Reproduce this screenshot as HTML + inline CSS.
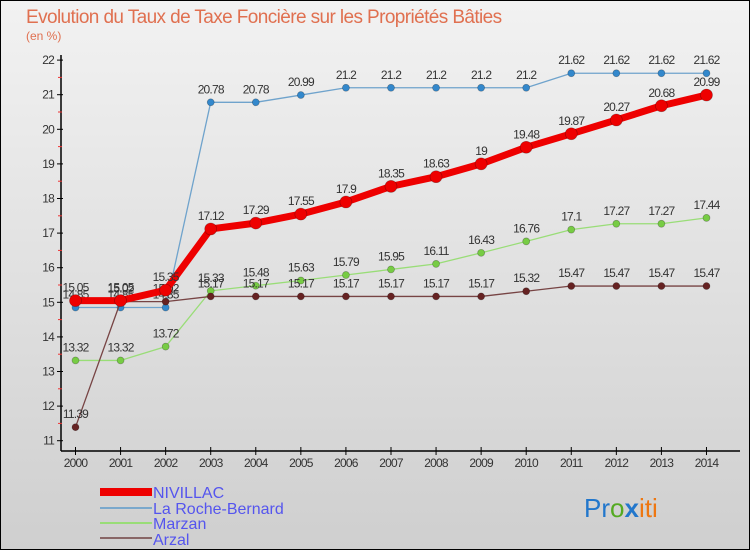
<!DOCTYPE html>
<html><head><meta charset="utf-8"><style>
body{margin:0;width:750px;height:550px;overflow:hidden;font-family:"Liberation Sans",sans-serif}
svg text{font-family:"Liberation Sans",sans-serif}
</style></head><body>
<svg id="chart" width="750" height="550" xmlns="http://www.w3.org/2000/svg">
<defs><linearGradient id="bg" x1="0" y1="0" x2="0" y2="1"><stop offset="0" stop-color="#f2f2f2"/><stop offset="1" stop-color="#cfcfcf"/></linearGradient></defs>
<rect x="0.5" y="0.5" width="749" height="549" fill="url(#bg)" stroke="#000"/>
<text x="26" y="23" font-size="19" fill="#e07050" letter-spacing="-0.6">Evolution du Taux de Taxe Foncière sur les Propriétés Bâties</text>
<text x="26" y="40" font-size="12" fill="#e07050">(en %)</text>
<g id="axes"></g><g id="series"></g>
<g font-size="16" fill="#5555ee">
<rect x="100" y="488" width="52" height="8" fill="#ee0000"/>
<text x="153" y="498">NIVILLAC</text>
<rect x="100" y="507" width="52" height="2" fill="#7aa8cc"/>
<text x="153" y="514">La Roche-Bernard</text>
<rect x="100" y="522" width="52" height="2" fill="#99dd77"/>
<text x="153" y="529">Marzan</text>
<rect x="100" y="537" width="52" height="2" fill="#886666"/>
<text x="153" y="545">Arzal</text>
</g>
<text x="584" y="517" font-size="26"><tspan fill="#2277cc">Pr</tspan><tspan fill="#55aa22">o</tspan><tspan fill="#2277cc" font-weight="bold">x</tspan><tspan fill="#ee7711">iti</tspan></text>
</svg>
<script>
const years=[2000,2001,2002,2003,2004,2005,2006,2007,2008,2009,2010,2011,2012,2013,2014];
const yTicks=[11,12,13,14,15,16,17,18,19,20,21,22];
const nivillac=[15.05,15.05,15.35,17.12,17.29,17.55,17.9,18.35,18.63,19,19.48,19.87,20.27,20.68,20.99];
const roche=[14.85,14.85,14.85,20.78,20.78,20.99,21.2,21.2,21.2,21.2,21.2,21.62,21.62,21.62,21.62];
const marzan=[13.32,13.32,13.72,15.33,15.48,15.63,15.79,15.95,16.11,16.43,16.76,17.1,17.27,17.27,17.44];
const arzal=[11.39,15.02,15.02,15.17,15.17,15.17,15.17,15.17,15.17,15.17,15.32,15.47,15.47,15.47,15.47];
const NS="http://www.w3.org/2000/svg";
const X=i=>75.5+i*45.07, Y=v=>440.7-(v-11)*34.6;
function mk(t,a,p){const e=document.createElementNS(NS,t);for(const k in a)e.setAttribute(k,a[k]);p.appendChild(e);return e;}
const ax=document.getElementById('axes');
mk('line',{x1:61,y1:55,x2:61,y2:451,stroke:'#000','stroke-width':1.5},ax);
mk('line',{x1:61,y1:451,x2:740,y2:451,stroke:'#000','stroke-width':1.5},ax);
yTicks.forEach(v=>{
 mk('line',{x1:57,y1:Y(v),x2:63,y2:Y(v),stroke:'#000'},ax);
 if(v<22)mk('line',{x1:58,y1:Y(v+0.5),x2:62,y2:Y(v+0.5),stroke:'#e33'},ax);
 const t=mk('text',{x:54,y:Y(v)+4,'font-size':12,'text-anchor':'end',fill:'#333','letter-spacing':'-0.8'},ax);
 
 
 t.textContent=v;
});
years.forEach((y,i)=>{
 mk('line',{x1:X(i),y1:447,x2:X(i),y2:455,stroke:'#000'},ax);
 const t=mk('text',{x:X(i),y:467,'font-size':12,'text-anchor':'middle',fill:'#333','letter-spacing':'-0.8'},ax);
 
 
 t.textContent=y;
});
const sg=document.getElementById('series');
function series(name,vals,color,w,r,dot){
 const g=mk('g',{},sg);
 
 
 mk('polyline',{points:vals.map((v,i)=>X(i)+','+Y(v)).join(' '),fill:'none',stroke:color,'stroke-width':w,'stroke-linejoin':'round'},g);
 vals.forEach((v,i)=>{
  const c=mk('circle',{cx:X(i),cy:Y(v),r:r,fill:dot,stroke:'rgba(0,0,0,0.3)','stroke-width':0.7},g);
  
  
  const t=mk('text',{x:X(i),y:Y(v)-9,'font-size':12,'text-anchor':'middle',fill:'#333','letter-spacing':'-0.8'},g);
  
  
  t.textContent=v;
 });
}
series('roche',roche,'#6fa3cc',1.3,3.5,'#3388cc');
series('marzan',marzan,'#99dd77',1.3,3.5,'#77cc44');
series('arzal',arzal,'#774444',1.3,3.5,'#662222');
series('nivillac',nivillac,'#ee0000',7,6,'#ee0000');
</script>
</body></html>
